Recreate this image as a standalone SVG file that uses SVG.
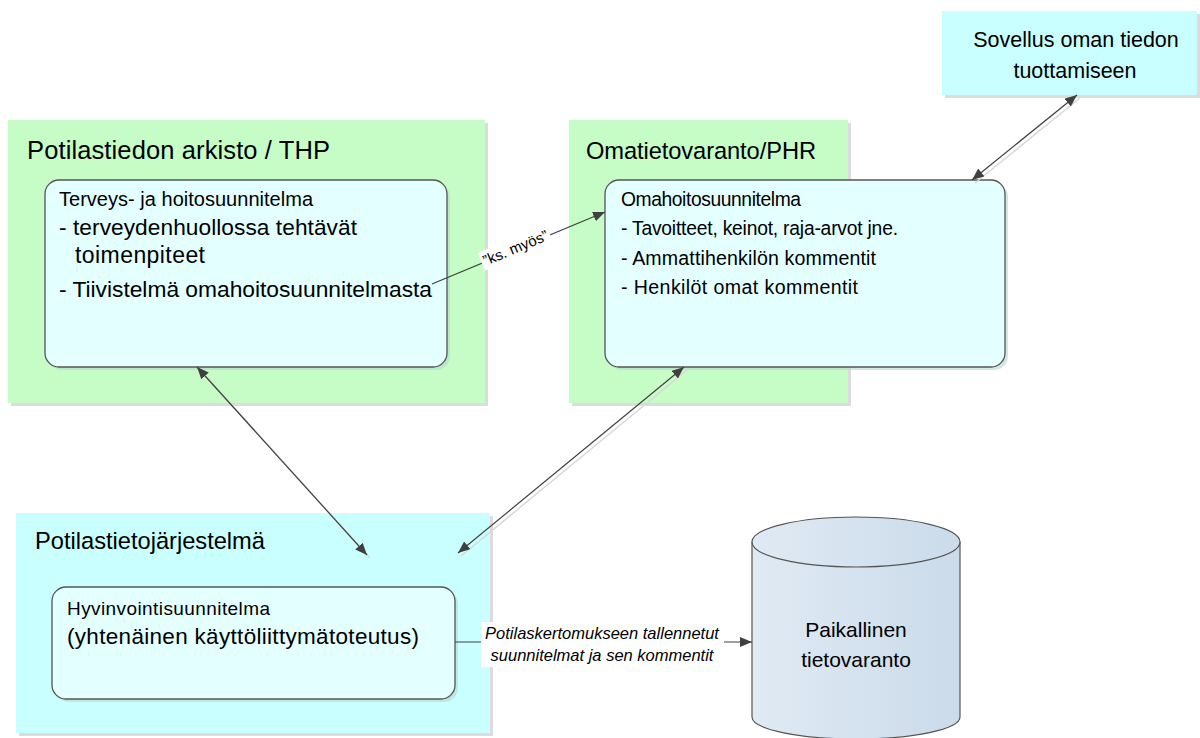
<svg xmlns="http://www.w3.org/2000/svg" width="1200" height="738" viewBox="0 0 1200 738">
<style>
.t{font-family:"Liberation Sans",Arial,sans-serif;fill:#000}
.green{fill:#c6fcc6}
.cyan{fill:#caffff}
.inner{fill:#e4ffff;stroke:#555;stroke-width:1.3}
.shadow{fill:#dcdcdc}
.ishadow{fill:#b8d8d0;opacity:0.6}
.con{stroke:#404040;stroke-width:1.2;fill:none}
.cshadow{stroke:#d8d8d8;stroke-width:1.5;fill:none}
</style>
<defs>
<marker id="ah" viewBox="0 0 12 10" refX="12" refY="5" markerWidth="12" markerHeight="10" markerUnits="userSpaceOnUse" orient="auto-start-reverse">
<path d="M0,0 L12,5 L0,10 z" fill="#404040"/>
</marker>
<linearGradient id="cyl" x1="0" y1="0" x2="1" y2="0">
<stop offset="0" stop-color="#e0eaf4"/>
<stop offset="1" stop-color="#cbdbea"/>
</linearGradient>
</defs>
<rect width="1200" height="738" fill="#fff"/>

<g id="arkisto">
<rect class="shadow" x="11" y="123" width="477" height="283"/>
<rect class="green" x="8" y="120" width="477" height="283"/>
<text class="t" style="font-size:25.5px" x="27" y="159" textLength="303" lengthAdjust="spacing">Potilastiedon arkisto / THP</text>
</g>
<g id="phr">
<rect class="shadow" x="572" y="123" width="279" height="283"/>
<rect class="green" x="569" y="120" width="279" height="283"/>
<text class="t" style="font-size:23.7px" x="586" y="159" textLength="230" lengthAdjust="spacing">Omatietovaranto/PHR</text>
</g>
<g id="ptj">
<rect class="shadow" x="19" y="516" width="474" height="220"/>
<rect class="cyan" x="16" y="513" width="474" height="220"/>
<text class="t" style="font-size:23.7px" x="35" y="549" textLength="230" lengthAdjust="spacing">Potilastietojärjestelmä</text>
</g>
<g id="sovellus">
<rect class="shadow" x="945" y="14" width="255" height="84"/>
<rect class="cyan" x="942" y="11" width="255" height="84"/>
<text class="t" style="font-size:21.5px" x="1076" y="47" text-anchor="middle">Sovellus oman tiedon</text>
<text class="t" style="font-size:21.5px" x="1075" y="78" text-anchor="middle">tuottamiseen</text>
</g>

<g id="thsuunnitelma">
<rect class="ishadow" x="48" y="183" width="402" height="187" rx="14"/>
<rect class="inner" x="45" y="180" width="402" height="187" rx="14"/>
<text class="t" style="font-size:20px" x="59" y="206" textLength="254" lengthAdjust="spacing">Terveys- ja hoitosuunnitelma</text>
<text class="t" style="font-size:22.7px" x="59" y="235" textLength="298" lengthAdjust="spacing">- terveydenhuollossa tehtävät</text>
<text class="t" style="font-size:23px" x="75" y="263" textLength="130" lengthAdjust="spacing">toimenpiteet</text>
<text class="t" style="font-size:22.8px" x="59" y="297" textLength="373" lengthAdjust="spacing">- Tiivistelmä omahoitosuunnitelmasta</text>
</g>
<g id="omahoito">
<rect class="ishadow" x="608" y="183" width="400" height="187" rx="14"/>
<rect class="inner" x="605" y="180" width="400" height="187" rx="14"/>
<text class="t" style="font-size:19.3px" x="621" y="206" textLength="180" lengthAdjust="spacing">Omahoitosuunnitelma</text>
<text class="t" style="font-size:19.3px" x="621" y="235" textLength="277" lengthAdjust="spacing">- Tavoitteet, keinot, raja-arvot jne.</text>
<text class="t" style="font-size:19.6px" x="621" y="265" textLength="255" lengthAdjust="spacing">- Ammattihenkilön kommentit</text>
<text class="t" style="font-size:19.6px" x="621" y="294" textLength="237" lengthAdjust="spacing">- Henkilöt omat kommentit</text>
</g>
<g id="hyvinvointi">
<rect class="ishadow" x="55" y="590" width="403" height="112" rx="14"/>
<rect class="inner" x="52" y="587" width="403" height="112" rx="14"/>
<text class="t" style="font-size:19px" x="67" y="615" textLength="203" lengthAdjust="spacing">Hyvinvointisuunnitelma</text>
<text class="t" style="font-size:22.5px" x="67" y="644" textLength="352" lengthAdjust="spacing">(yhtenäinen käyttöliittymätoteutus)</text>
</g>

<g id="tietovaranto">
<path d="M752,542 L752,717 A104,22 0 0 0 960,717 L960,542" fill="url(#cyl)" stroke="#555" stroke-width="1.2"/>
<ellipse cx="856" cy="542" rx="104" ry="25" fill="url(#cyl)" stroke="#555" stroke-width="1.2"/>
<text class="t" style="font-size:21px" x="856" y="637" text-anchor="middle">Paikallinen</text>
<text class="t" style="font-size:21px" x="856" y="667" text-anchor="middle">tietovaranto</text>
</g>

<g id="connectors">
<line class="cshadow" x1="1080" y1="98" x2="975" y2="183"/>
<line class="con" x1="1077" y1="95" x2="972" y2="180" marker-start="url(#ah)" marker-end="url(#ah)"/>
<line class="cshadow" x1="200" y1="370" x2="370" y2="558"/>
<line class="con" x1="197" y1="367" x2="367" y2="555" marker-start="url(#ah)" marker-end="url(#ah)"/>
<line class="cshadow" x1="687" y1="370" x2="461" y2="556"/>
<line class="con" x1="684" y1="367" x2="458" y2="553" marker-start="url(#ah)" marker-end="url(#ah)"/>
<line class="con" x1="432" y1="284" x2="605" y2="212" marker-end="url(#ah)"/>
<g transform="translate(516,249) rotate(-22.6)">
<rect x="-37" y="-11" width="74" height="19" fill="#fff"/>
<text class="t" style="font-size:15px" x="0" y="4" text-anchor="middle">”ks. myös”</text>
</g>
<line class="con" x1="455" y1="642" x2="752" y2="642" marker-end="url(#ah)"/>
<rect x="481" y="622" width="243" height="45" fill="#fff"/>
<text class="t" style="font-size:16.5px;font-style:italic" x="602" y="639" text-anchor="middle">Potilaskertomukseen tallennetut</text>
<text class="t" style="font-size:16.5px;font-style:italic" x="602" y="661" text-anchor="middle">suunnitelmat ja sen kommentit</text>
</g>
</svg>
